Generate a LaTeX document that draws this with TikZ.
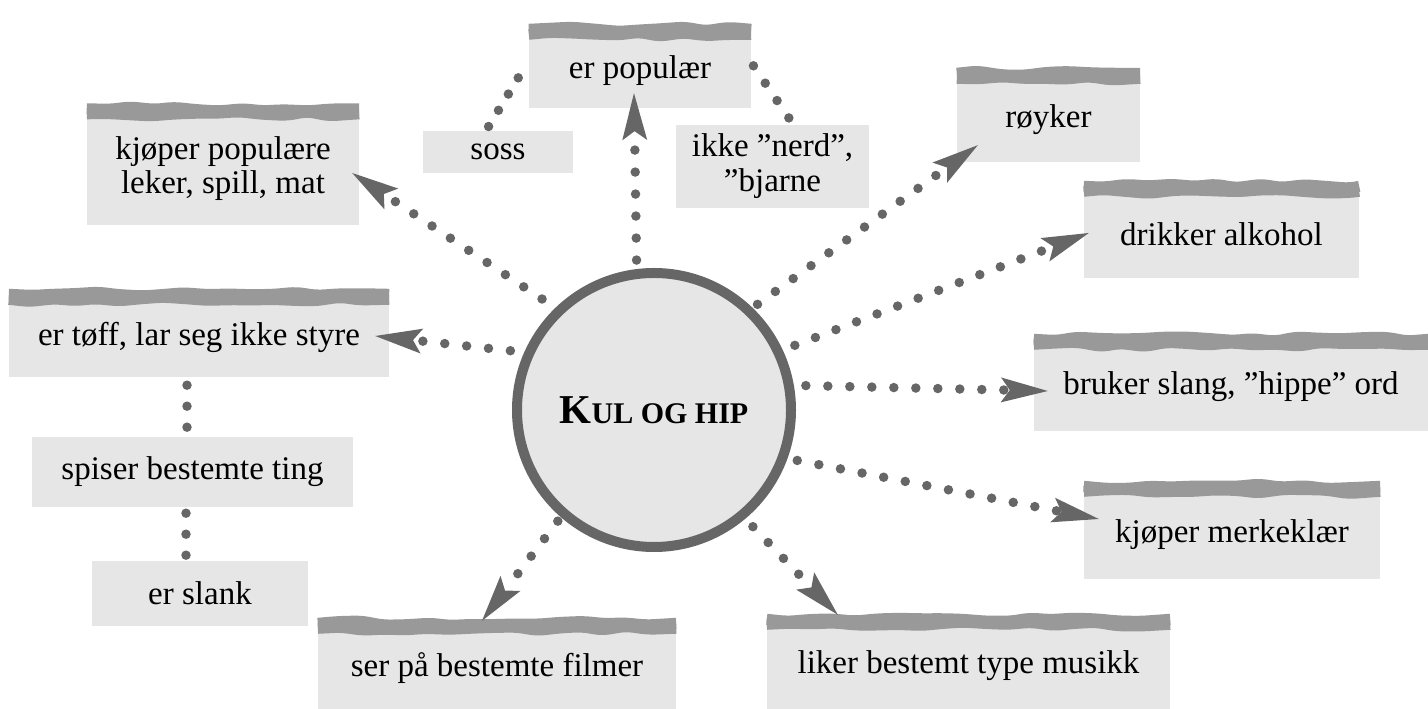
\documentclass[tikz,border=0pt]{standalone}
\usepackage{fontspec}
\setmainfont{Liberation Serif}
\usetikzlibrary{arrows.meta, decorations.pathmorphing}
\definecolor{cardgray}{HTML}{E6E6E6}
\definecolor{inkgray}{HTML}{666666}
\definecolor{torngray}{HTML}{999999}

\begin{document}
\begin{tikzpicture}[
        x=1pt, y=1pt,
        % Define styles
        card/.style={fill=cardgray, inner sep=0pt, align=center, font=\fontsize{33}{35}\selectfont},
        hub/.style={circle, draw=inkgray, fill=cardgray, line width=10pt, minimum size=274pt, inner sep=0pt},
        torn/.style={torngray, line width=11pt, decorate, decoration={random steps, segment length=22pt, amplitude=2.3pt}, rounded corners=7pt},
        dotlink/.style={inkgray, line width=9.5pt, line cap=round, dash pattern=on 0pt off 21pt},
        arrowlink/.style={dotlink, dash pattern=on 0pt off 22pt, -{Stealth[length=47pt, width=25pt, inset=9pt, line width=0pt]}}
    ]
        \useasboundingbox (0,0) rectangle (1428,709);
        \pgfmathsetseed{12}

        % --- Centre ---
        \node[hub] (kul) at (654,299) {\bfseries\fontsize{41}{41}\selectfont K\fontsize{30}{30}\selectfont UL OG HIP};

        % --- Boxes ---
        % Top
        \node[card, minimum width=222pt, minimum height=75pt] (populaer) at (640,638.5) {er populær};
        \node[card, minimum width=150pt, minimum height=42pt] (soss) at (498,557) {soss};
        \node[card, minimum width=193pt, minimum height=83pt] (nerd) at (772.5,542.5) {ikke ”nerd”,\\ ”bjarne};

        % Right side
        \node[card, minimum width=183pt, minimum height=85pt] (royker) at (1048.5,589.5) {røyker};
        \node[card, minimum width=275pt, minimum height=88pt] (alkohol) at (1221.5,475) {drikker alkohol};
        \node[card, minimum width=394pt, minimum height=88pt] (slang) at (1231,322) {bruker slang, ”hippe” ord};
        \node[card, minimum width=296pt, minimum height=89pt] (merke) at (1232,174.5) {kjøper merkeklær};

        % Bottom
        \node[card, minimum width=403pt, minimum height=86pt] (musikk) at (968.5,43) {liker bestemt type musikk};
        \node[card, minimum width=358pt, minimum height=82pt] (filmer) at (497,41) {ser på bestemte filmer};

        % Left side
        \node[card, minimum width=272pt, minimum height=113pt, font=\fontsize{33}{34}\selectfont] (leker) at (223,540) {kjøper populære\\ leker, spill, mat};
        \node[card, minimum width=380pt, minimum height=79pt] (toff) at (199,371.5) {er tøff, lar seg ikke styre};
        \node[card, minimum width=321pt, minimum height=70pt] (spiser) at (192.5,237) {spiser bestemte ting};
        \node[card, minimum width=216pt, minimum height=65pt] (slank) at (200,115.5) {er slank};

        % --- Torn paper strips ---
        \foreach \b in {populaer, leker, toff, royker, alkohol, slang, merke, musikk, filmer} {
            \draw[torn] ([yshift=3.5pt]\b.north west) -- ([yshift=3.5pt]\b.north east);
            \draw[torn] ([yshift=-1.5pt]\b.north west) -- ([yshift=-1.5pt]\b.north east);
        }

        % --- Dotted links ---
        \draw[dotlink, dash pattern=on 0pt off 19pt, shorten <=5pt, shorten >=1.5pt] ([xshift=-12pt]soss.north) -- ([yshift=10pt]populaer.west);
        \draw[dotlink, shorten <=4pt, shorten >=8pt] ([yshift=8pt]populaer.east) -- ([xshift=21pt]nerd.north);
        \draw[dotlink, shorten <=8pt, shorten >=9.5pt] ([xshift=-12pt]toff.south) -- ([xshift=-12pt]toff.south |- spiser.north);
        \draw[dotlink, shorten <=6pt, shorten >=5.5pt] ([xshift=-6.5pt]spiser.south) -- ([xshift=-6.5pt]spiser.south |- slank.north);

        % --- Arrows out of the centre ---
        \draw[arrowlink, shorten <=9pt] (kul.97) -- ([xshift=-6pt, yshift=15pt]populaer.south);
        \draw[arrowlink, shorten <=16pt] (kul.134) -- ([xshift=-7pt, yshift=-4pt]leker.east);
        \draw[arrowlink, shorten <=14pt] (kul.156) -- ([xshift=-14pt, yshift=1.5pt]toff.east);
        \draw[arrowlink, shorten <=5pt] (kul.229) -- ([xshift=-15pt, yshift=6pt]filmer.north);
        \draw[arrowlink, shorten <=11pt] (kul.310) -- ([xshift=71pt, yshift=8pt]musikk.north west);
        \draw[arrowlink, shorten <=10pt] (kul.340) -- ([xshift=15pt, yshift=15.5pt]merke.west);
        \draw[arrowlink, shorten <=12pt] (kul.10) -- ([xshift=14pt, yshift=-4pt]slang.west);
        \draw[arrowlink, shorten <=13pt] (kul.25) -- ([xshift=5pt, yshift=1pt]alkohol.west);
        \draw[arrowlink, shorten <=6pt] (kul.46) -- ([xshift=21pt, yshift=17pt]royker.south west);

    \end{tikzpicture}
\end{document}
